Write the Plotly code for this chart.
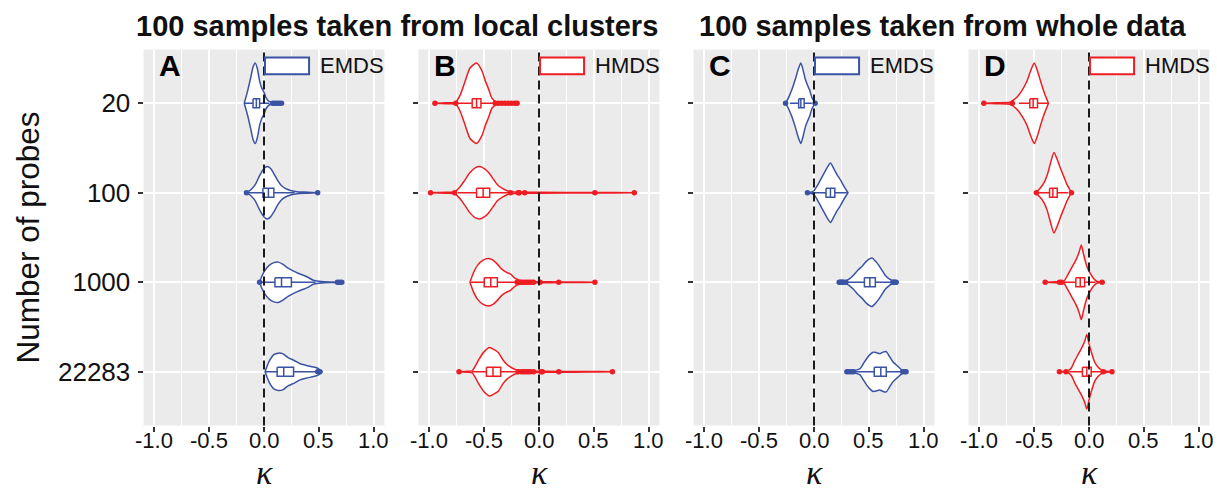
import plotly.graph_objects as go

# ---------------------------------------------------------------- data
probes = ["20", "100", "1000", "22283"]
panel_letters = ["A", "B", "C", "D"]
panel_methods = ["EMDS", "HMDS", "EMDS", "HMDS"]
group_titles = ["100 samples taken from local clusters", "100 samples taken from whole data"]
x_ticks = [-1.0, -0.5, 0.0, 0.5, 1.0]
x_tick_text = ["-1.0", "-0.5", "0.0", "0.5", "1.0"]

# violin profiles: kappa grid and relative density (peak of tallest = 40)
kappa_A = [
    [-0.18, -0.15, -0.12, -0.10, -0.08, -0.06, -0.04, -0.02, 0.00, 0.02, 0.05, 0.10, 0.16],
    [-0.16, -0.12, -0.08, -0.04, 0.00, 0.03, 0.06, 0.09, 0.12, 0.16, 0.20, 0.25, 0.30, 0.40, 0.49],
    [-0.04, -0.02, 0.01, 0.05, 0.09, 0.13, 0.17, 0.22, 0.27, 0.31, 0.36, 0.40, 0.45, 0.50, 0.55, 0.62, 0.72],
    [0.01, 0.03, 0.05, 0.09, 0.13, 0.17, 0.22, 0.28, 0.33, 0.38, 0.44, 0.48, 0.51, 0.53],
]
dens_A = [
    [0, 12, 26, 36, 40, 34, 22, 15, 11, 5, 1.5, 0.8, 0],
    [0, 3, 8, 17, 24, 26, 24, 19, 13, 7, 4, 2, 1, 0.5, 0],
    [0, 6, 12, 17, 19.5, 20, 18, 14, 11, 9, 7, 5, 2, 1, 0.5, 0.3, 0],
    [0, 6, 11, 17, 18.5, 18, 14, 11, 8, 6.5, 5, 4, 2, 0],
]
kappa_B = [
    [-0.95, -0.85, -0.76, -0.72, -0.68, -0.63, -0.57, -0.52, -0.49, -0.46, -0.43, -0.39, -0.32, -0.25, -0.19],
    [-0.99, -0.85, -0.77, -0.72, -0.68, -0.63, -0.58, -0.54, -0.50, -0.46, -0.42, -0.38, -0.33, -0.28, -0.20, 0.0, 0.5, 0.87],
    [-0.63, -0.60, -0.56, -0.51, -0.46, -0.42, -0.38, -0.34, -0.30, -0.26, -0.22, -0.18, -0.12, -0.05, 0.1, 0.3, 0.51],
    [-0.73, -0.65, -0.61, -0.58, -0.55, -0.50, -0.45, -0.41, -0.37, -0.33, -0.29, -0.25, -0.21, -0.15, -0.05, 0.2, 0.45, 0.67],
]
dens_B = [
    [0, 0.5, 1, 8, 20, 35, 40, 32, 22, 14, 5, 1.5, 0.8, 0.5, 0],
    [0, 0.5, 1, 6, 12, 20, 25, 26, 24, 20, 14, 8, 4, 1.5, 0.6, 0.4, 0.3, 0],
    [0, 9, 17, 22, 23.5, 22, 18, 13, 10, 8, 4, 2, 1, 0.5, 0.4, 0.3, 0],
    [0, 0.5, 1, 6, 12, 20, 24, 22, 19, 12, 7, 4, 2, 1, 0.6, 0.4, 0.3, 0],
]
kappa_C = [
    [-0.26, -0.23, -0.20, -0.17, -0.14, -0.12, -0.10, -0.08, -0.06, -0.04, -0.02, 0.01],
    [-0.06, -0.03, 0.00, 0.03, 0.06, 0.09, 0.12, 0.15, 0.18, 0.21, 0.24, 0.27, 0.31],
    [0.23, 0.28, 0.32, 0.36, 0.40, 0.44, 0.48, 0.53, 0.56, 0.59, 0.62, 0.65, 0.69, 0.75],
    [0.30, 0.36, 0.42, 0.45, 0.48, 0.51, 0.54, 0.57, 0.60, 0.63, 0.66, 0.69, 0.72, 0.76, 0.80, 0.84],
]
dens_C = [
    [0, 6, 14, 24, 35, 40, 33, 24, 18, 13, 6, 0],
    [0, 0.5, 2, 7, 13, 19, 25, 29.5, 24, 18, 13, 7, 0],
    [0, 1, 3, 7, 12, 16, 21, 24, 21, 17, 12, 7, 3, 0],
    [0, 1, 3, 8, 13, 17, 19.5, 19, 18, 19.5, 20, 15, 10, 6, 2, 0],
]
kappa_D = [
    [-0.96, -0.85, -0.72, -0.69, -0.65, -0.61, -0.57, -0.53, -0.50, -0.47, -0.44, -0.41, -0.37],
    [-0.49, -0.45, -0.41, -0.38, -0.35, -0.32, -0.29, -0.26, -0.23, -0.20, -0.16],
    [-0.40, -0.30, -0.23, -0.20, -0.16, -0.12, -0.09, -0.07, -0.05, -0.02, 0.01, 0.04, 0.07, 0.12],
    [-0.27, -0.22, -0.19, -0.16, -0.13, -0.10, -0.07, -0.04, -0.02, 0.00, 0.02, 0.05, 0.08, 0.11, 0.15, 0.21],
]
dens_D = [
    [0, 0.5, 1, 3, 7, 13, 21, 33, 40, 32, 21, 11, 0],
    [0, 4, 10, 18, 30, 40, 33, 24, 16, 8, 0],
    [0, 0.5, 1, 6, 14, 22, 30, 37, 28, 16, 9, 4, 1, 0],
    [0, 0.5, 1, 4, 11, 17, 23, 30, 37, 28, 20, 10, 5, 2, 0.8, 0],
]

# box statistics per probe count
q1_A = [-0.10, -0.01, 0.10, 0.12]
med_A = [-0.07, 0.04, 0.16, 0.18]
q3_A = [-0.04, 0.09, 0.25, 0.27]
lo_A = [-0.18, -0.14, -0.02, 0.01]
hi_A = [0.05, 0.28, 0.47, 0.47]
out_A = [[0.08, 0.10, 0.12, 0.14, 0.16], [-0.16, 0.49], [-0.04, 0.67, 0.69, 0.71], [0.49, 0.50, 0.51]]

q1_B = [-0.61, -0.57, -0.50, -0.48]
med_B = [-0.57, -0.51, -0.44, -0.42]
q3_B = [-0.53, -0.45, -0.38, -0.35]
lo_B = [-0.74, -0.74, -0.62, -0.61]
hi_B = [-0.42, -0.28, -0.21, -0.21]
out_B = [
    [-0.95, -0.76, -0.40, -0.37, -0.34, -0.31, -0.28, -0.25, -0.22, -0.20],
    [-0.99, -0.77, -0.26, -0.19, -0.18, -0.13, 0.51, 0.87],
    [-0.20, -0.17, -0.15, -0.13, -0.11, -0.09, -0.07, -0.05, 0.01, 0.18, 0.51],
    [-0.73, -0.19, -0.16, -0.14, -0.12, -0.10, -0.08, -0.05, 0.02, 0.03, 0.18, 0.67],
]

q1_C = [-0.14, 0.11, 0.46, 0.55]
med_C = [-0.12, 0.15, 0.51, 0.61]
q3_C = [-0.09, 0.19, 0.56, 0.66]
lo_C = [-0.22, -0.02, 0.31, 0.38]
hi_C = [-0.02, 0.30, 0.70, 0.79]
out_C = [
    [-0.26, 0.01],
    [-0.06],
    [0.23, 0.24, 0.25, 0.26, 0.27, 0.29, 0.72, 0.73, 0.74, 0.75],
    [0.30, 0.32, 0.34, 0.36, 0.81, 0.83, 0.84],
]

q1_D = [-0.54, -0.36, -0.12, -0.06]
med_D = [-0.51, -0.33, -0.08, -0.02]
q3_D = [-0.47, -0.29, -0.04, 0.02]
lo_D = [-0.64, -0.46, -0.23, -0.18]
hi_D = [-0.37, -0.19, 0.06, 0.11]
out_D = [[-0.96, -0.70], [-0.48, -0.16], [-0.40, -0.27, -0.25, 0.12], [-0.27, -0.21, 0.13, 0.21]]

# ---------------------------------------------------------------- style
BLUE = "#3A53A4"
RED = "#EE1D23"
panel_colors = [BLUE, RED, BLUE, RED]
PANEL_BG = "#EBEBEB"
TEXT = "#111111"
SANS = "Liberation Sans, Arial, sans-serif"
W, H = 1217, 490


def fx(px):
    """horizontal pixel -> paper fraction"""
    return px / W


def fy(py):
    """vertical pixel (from top) -> paper fraction"""
    return (H - py) / H


x_px = [(143.5, 384.5), (418.5, 659.5), (693.5, 934.5), (968.5, 1209.5)]
y_dom = [fy(425.5), fy(49.5)]
VIOLIN_HALF = 0.45   # half width of the widest violin, in category units
DENS_PEAK = 40.0
BOX_HALF = 0.05

panels = [
    (kappa_A, dens_A, q1_A, med_A, q3_A, lo_A, hi_A, out_A),
    (kappa_B, dens_B, q1_B, med_B, q3_B, lo_B, hi_B, out_B),
    (kappa_C, dens_C, q1_C, med_C, q3_C, lo_C, hi_C, out_C),
    (kappa_D, dens_D, q1_D, med_D, q3_D, lo_D, hi_D, out_D),
]

fig = go.Figure()

for p, (kap, dens, q1, med, q3, lo, hi, outs) in enumerate(panels):
    xa = "x" if p == 0 else f"x{p + 1}"
    ya = "y" if p == 0 else f"y{p + 1}"
    col = panel_colors[p]
    for i in range(len(probes)):
        k = kap[i]
        hw = [d / DENS_PEAK * VIOLIN_HALF for d in dens[i]]
        vx = list(k) + list(k[::-1]) + [k[0]]
        vy = [i - w for w in hw] + [i + w for w in hw[::-1]] + [i]
        fig.add_trace(go.Scatter(
            x=vx, y=vy, mode="lines", fill="toself", fillcolor="white",
            line=dict(color=col, width=1.5, shape="spline", smoothing=0.6),
            xaxis=xa, yaxis=ya, showlegend=False, hoverinfo="skip"))
        # whiskers
        fig.add_trace(go.Scatter(
            x=[lo[i], q1[i], None, q3[i], hi[i]], y=[i, i, None, i, i],
            mode="lines", line=dict(color=col, width=1.5),
            xaxis=xa, yaxis=ya, showlegend=False, hoverinfo="skip"))
        # box
        fig.add_trace(go.Scatter(
            x=[q1[i], q3[i], q3[i], q1[i], q1[i]],
            y=[i - BOX_HALF, i - BOX_HALF, i + BOX_HALF, i + BOX_HALF, i - BOX_HALF],
            mode="lines", fill="toself", fillcolor="white",
            line=dict(color=col, width=1.5),
            xaxis=xa, yaxis=ya, showlegend=False, hoverinfo="skip"))
        # median
        fig.add_trace(go.Scatter(
            x=[med[i], med[i]], y=[i - BOX_HALF, i + BOX_HALF],
            mode="lines", line=dict(color=col, width=1.5),
            xaxis=xa, yaxis=ya, showlegend=False, hoverinfo="skip"))
        # outliers
        fig.add_trace(go.Scatter(
            x=outs[i], y=[i] * len(outs[i]), mode="markers",
            marker=dict(color=col, size=5.5, line=dict(width=0)),
            xaxis=xa, yaxis=ya, showlegend=False, hoverinfo="skip"))

    # axes
    xkey = "xaxis" if p == 0 else f"xaxis{p + 1}"
    ykey = "yaxis" if p == 0 else f"yaxis{p + 1}"
    fig.update_layout({
        xkey: dict(
            domain=[fx(x_px[p][0]), fx(x_px[p][1])], anchor=ya, range=[-1.1, 1.1],
            tickvals=x_ticks, ticktext=x_tick_text, ticks="outside", ticklen=5,
            tickwidth=2, tickcolor="#333333", showticklabels=False,
            showgrid=True, gridcolor="white",
            gridwidth=2.4, zeroline=False, showline=False,
            minor=dict(tickvals=[-0.75, -0.25, 0.25, 0.75], showgrid=True,
                       gridcolor="white", gridwidth=1.2, ticks=""),
            fixedrange=True),
        ykey: dict(
            domain=y_dom, anchor=xa, range=[3.6, -0.6],
            tickvals=[0, 1, 2, 3], ticktext=probes, ticks="outside", ticklen=5,
            tickwidth=2, tickcolor="#333333", showticklabels=(p == 0),
            showgrid=True, gridcolor="white", gridwidth=2.4, zeroline=False,
            showline=False, tickfont=dict(family=SANS, size=26, color=TEXT),
            ticklabelstandoff=2, fixedrange=True),
    })

    # x tick labels
    for tv, tt in zip(x_ticks, x_tick_text):
        fig.add_annotation(xref=xa, yref="paper", x=tv, y=fy(440), xanchor="center",
                           yanchor="middle", showarrow=False, text=tt,
                           font=dict(family=SANS, size=22, color=TEXT))

    # dashed reference at kappa = 0
    fig.add_shape(type="line", xref=xa, yref=f"{ya} domain", x0=0, x1=0, y0=0, y1=1,
                  layer="above", line=dict(color="#1a1a1a", width=2, dash="9px,5px"))

    # legend key
    fig.add_shape(type="rect", xref=f"{xa} domain", yref=f"{ya} domain",
                  x0=0.504, x1=0.687, y0=0.934, y1=0.979, layer="above",
                  fillcolor="white", line=dict(color=col, width=2))
    fig.add_annotation(xref=f"{xa} domain", yref=f"{ya} domain", x=0.725, y=0.957,
                       xanchor="left", yanchor="middle", showarrow=False,
                       text=panel_methods[p], font=dict(family=SANS, size=22, color=TEXT))
    # panel letter
    fig.add_annotation(xref=f"{xa} domain", yref=f"{ya} domain", x=0.055, y=0.958,
                       xanchor="left", yanchor="middle", showarrow=False,
                       text=f"<b>{panel_letters[p]}</b>",
                       font=dict(family=SANS, size=30, color="black"))
    # kappa axis label
    fig.add_annotation(xref=f"{xa} domain", yref="paper", x=0.5, y=0.0,
                       xanchor="center", yanchor="bottom", yshift=-3, showarrow=False,
                       text="<i>κ</i>",
                       font=dict(family="Liberation Serif, DejaVu Serif, serif", size=34, color=TEXT))

# group titles
title_cx = [397, 942.5]
for g, title in enumerate(group_titles):
    fig.add_annotation(xref="paper", yref="paper", x=fx(title_cx[g]),
                       y=fy(26), xanchor="center", yanchor="middle", showarrow=False,
                       text=f"<b>{title}</b>", font=dict(family=SANS, size=29, color=TEXT))

# y axis title
fig.add_annotation(xref="paper", yref="paper", x=fx(27.5), y=fy(238),
                   xanchor="center", yanchor="middle", textangle=-90, showarrow=False,
                   text="Number of probes", font=dict(family=SANS, size=31.5, color=TEXT))

fig.update_layout(
    width=W, height=H, margin=dict(l=0, r=0, t=0, b=0),
    paper_bgcolor="white", plot_bgcolor=PANEL_BG, showlegend=False,
)

fig.write_html("out.html")
